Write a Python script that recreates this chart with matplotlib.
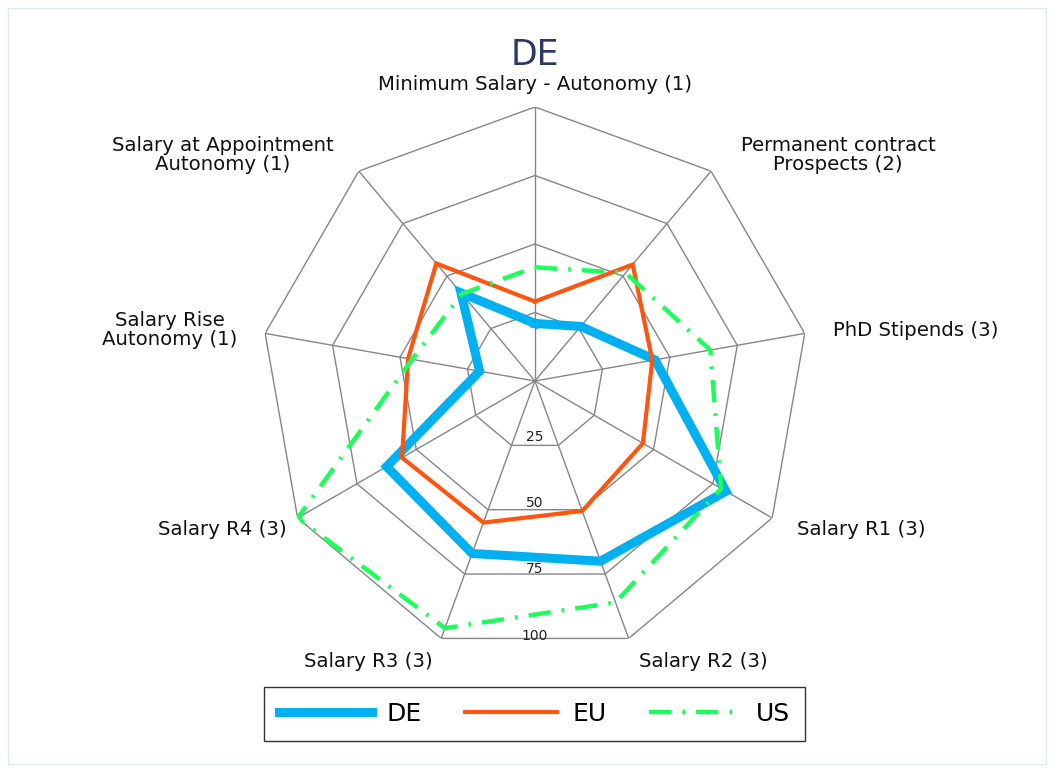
import numpy as np
import matplotlib
matplotlib.use("Agg")
import matplotlib.pyplot as plt
from matplotlib.patches import Rectangle

# categories, clockwise from the top
categories = [
    "Minimum Salary - Autonomy (1)",
    "Permanent contract\nProspects (2)",
    "PhD Stipends (3)",
    "Salary R1 (3)",
    "Salary R2 (3)",
    "Salary R3 (3)",
    "Salary R4 (3)",
    "Salary Rise\nAutonomy (1)",
    "Salary at Appointment\nAutonomy (1)",
]

de_values = [21, 26, 44.5, 80.5, 70, 67, 62.5, 20.5, 42]
eu_values = [29, 55.5, 43.5, 45.5, 50.5, 55, 56, 47, 56]
us_values = [41.5, 51.5, 65, 78.5, 86, 96, 100, 45.5, 41.5]

ring_ticks = [25, 50, 75, 100]
series_names = ["DE", "EU", "US"]

plt.rcParams['font.family'] = ['DejaVu Sans']

n = len(categories)
angles = np.linspace(0, 2 * np.pi, n, endpoint=False)
closed = np.append(angles, angles[0])

fig = plt.figure(figsize=(10.53, 7.72), dpi=100)
fig.patches.append(Rectangle((0.008, 0.01), 0.985, 0.98, transform=fig.transFigure,
                             fill=False, edgecolor="#dcebee", linewidth=1))

ax = fig.add_axes([0.2478, 0.1516, 0.5204, 0.7098], projection="polar")
ax.set_theta_offset(np.pi / 2)
ax.set_theta_direction(-1)
ax.set_ylim(0, 100)
ax.set_xticks([])
ax.set_yticks([])
ax.grid(False)
ax.spines["polar"].set_visible(False)
ax.patch.set_alpha(0)

# polygon grid
grid_col = "#868686"
for t in ring_ticks:
    ax.plot(closed, [t] * (n + 1), color=grid_col, lw=1.0, zorder=1)
for a in angles:
    ax.plot([a, a], [0, 100], color=grid_col, lw=1.0, zorder=1)

# ring labels straight down from the centre
for t in ring_ticks:
    ax.text(np.pi, t * 0.968 - 3.8, str(t), ha="center", va="center",
            fontsize=10, color="#222222", zorder=2)

def close(v):
    return list(v) + [v[0]]

ax.plot(closed, close(de_values), color="#00b0f0", lw=6.5, label=series_names[0], zorder=3,
        solid_joinstyle="miter")
ax.plot(closed, close(eu_values), color="#ff5510", lw=3, label=series_names[1], zorder=4,
        solid_joinstyle="miter")
ax.plot(closed, close(us_values), color="#1aff5a", lw=3.2, label=series_names[2], zorder=5,
        linestyle=(0, (5, 2.5, 0.6, 2.5)))

# category labels: offsets in pixels from the outer vertex
label_pos = [
    ((0, 22), "center"),
    ((127, 16), "center"),
    ((28, 3), "left"),
    ((25, -12), "left"),
    ((75, -23), "center"),
    ((-73, -23), "center"),
    ((-11, -12), "right"),
    ((-95, 3), "center"),
    ((-136, 16), "center"),
]
for a, lab, (off, ha) in zip(angles, categories, label_pos):
    ax.annotate(lab, (a, 100), textcoords="offset pixels", xytext=off,
                ha=ha, va="center", fontsize=14.2, color="#111111",
                multialignment="center", linespacing=1.0, annotation_clip=False)

fig.text(0.508, 1 - 55 / 772, "DE", ha="center", va="center", fontsize=25,
         color="#2b3a67")

leg = fig.legend(loc="center", bbox_to_anchor=(0.508, 1 - 714 / 772), ncol=3,
                 fontsize=18, frameon=True, fancybox=False, edgecolor="black",
                 handlelength=3.7, columnspacing=1.7, handletextpad=0.6,
                 borderpad=0.6)
leg.get_frame().set_linewidth(1.0)

fig.savefig("out.png", dpi=100)
